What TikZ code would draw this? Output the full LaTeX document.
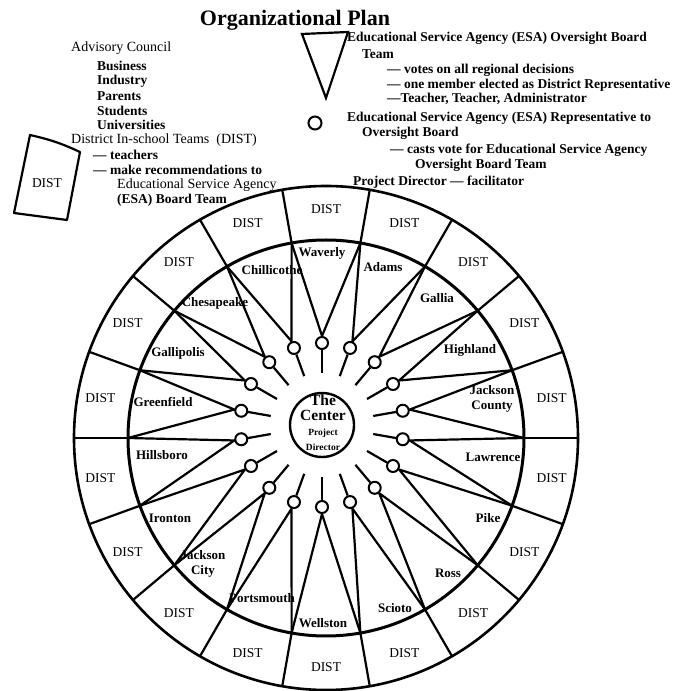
\documentclass[tikz,border=0pt]{standalone}
\usepackage{fontspec}
\setmainfont{Liberation Serif}
\usetikzlibrary{calc}
\def\legendfont{\fontsize{13.5}{15}\selectfont}
\tikzset{
  ringline/.style={line width=3pt},
  rimline/.style={line width=2.6pt},
  spoke/.style={line width=2.2pt, line join=round},
  rep/.style={circle, draw, line width=2pt, minimum size=12pt, inner sep=0pt, fill=white},
  distlabel/.style={font=\fontsize{13.5}{14}\selectfont, inner sep=0pt},
  townlabel/.style={font=\fontsize{13}{15}\selectfont\bfseries, align=center, inner sep=0pt},
  legendtext/.style={anchor=west, inner sep=0pt, font=\fontsize{14}{15}\selectfont},
  legendbold/.style={anchor=west, inner sep=0pt, font=\legendfont\bfseries},
}

\begin{document}
\begin{tikzpicture}[x=1pt, y=1pt]
			%%%%% START %%%%%
			\useasboundingbox (0,0) rectangle (680,691);
			\coordinate (W) at (326,253);
			\coordinate (H) at (322,266);
			
			\node[font=\fontsize{22}{24}\selectfont\bfseries] (title) at (295,671) {Organizational Plan};
			
			% left legend
			\node[legendtext] (adv) at (71,643) {Advisory Council};
			\node[legendbold] (bus) at (97,625) {Business};
			\node[legendbold] (ind) at (97,610) {Industry};
			\node[legendbold] (par) at (97,595) {Parents};
			\node[legendbold] (stu) at (97,580) {Students};
			\node[legendbold] (uni) at (97,566) {Universities};
			\node[legendtext] (dist) at (71,551) {District In-school Teams\ \ (DIST)};
			\node[legendbold] (tea) at (93,536) {--- teachers};
			\node[legendbold] (mak) at (93,521) {--- make recommendations to};
			\node[legendtext] (esa) at (117,506) {Educational Service Agency};
			\node[legendbold] (brd) at (117,491) {(ESA) Board Team};
			
			\draw[line width=2.2pt, line join=round] (30,556) to[bend left=6] (80,539) -- (67,471) -- (14,478) -- cycle;
			\node[distlabel] (dsample) at (47,508) {DIST};
			
			% right legend
			\draw[line width=2.2pt] (302,657) -- (348,659) -- (326,593) -- cycle;
			\node[rep, minimum size=13pt] (legrep) at (315,568) {};
			\node[legendbold] (ob1) at (347,653) {Educational Service Agency (ESA) Oversight Board};
			\node[legendbold] (ob2) at (362,637) {Team};
			\node[legendbold] (ob3) at (387,621) {--- votes on all regional decisions};
			\node[legendbold] (ob4) at (387,606) {--- one member elected as District Representative};
			\node[legendbold] (ob5) at (387,592) {---Teacher, Teacher, Administrator};
			\node[legendbold] (rp1) at (347,573) {Educational Service Agency (ESA) Representative to};
			\node[legendbold] (rp2) at (362,558) {Oversight Board};
			\node[legendbold] (rp3) at (390,541) {--- casts vote for Educational Service Agency};
			\node[legendbold] (rp4) at (415,526) {Oversight Board Team};
			\node[legendbold] (pd) at (353,509) {Project Director --- facilitator};
			
			% wheel
			\draw[rimline] (W) circle (252pt);
			\draw[ringline] (W) circle (198pt);
			
			\foreach \k in {0,...,17}{
				\coordinate (v\k) at ($(W)+(20*\k:198pt)$);
				\coordinate (o\k) at ($(W)+(20*\k:252pt)$);
				\node[rep] (r\k) at ($(H)+(20*\k+10:82pt)$) {};
				\coordinate (s\k) at ($(H)+(20*\k+10:52pt)$);
			}
			
			\foreach \k in {0,...,17}{
				\pgfmathtruncatemacro\n{mod(\k+1,18)}
				\pgfmathtruncatemacro\m{20*\k+10}
				\pgfmathtruncatemacro\b{mod(20*\k+190,360)}
				\draw[spoke] (v\k) -- (r\k.\m) -- (v\n);
				\draw[spoke] (r\k.\b) -- (s\k);
				\draw[spoke] (v\k) -- (o\k);
				\node[distlabel] (d\k) at ($(W)+(\m:229pt)$) {DIST};
			}
			
			\node[circle, draw, line width=2.4pt, minimum size=64pt] (hub) at (H) {};
			\node[align=center, font=\fontsize{15.5}{15}\selectfont\bfseries, inner sep=0pt] (hubtext) at ($(H)+(1,2)$)
				{The\\ Center\\ \fontsize{9.5}{15}\selectfont Project\\ \fontsize{9.5}{15}\selectfont Director};
			
			% districts
			\node[townlabel] (t1) at (322,438) {Waverly};
			\node[townlabel] (t2) at (383,424) {Adams};
			\node[townlabel] (t3) at (437,393) {Gallia};
			\node[townlabel] (t4) at (470,341) {Highland};
			\node[townlabel] (t5) at (492,292) {Jackson\\County};
			\node[townlabel] (t6) at (493,234) {Lawrence};
			\node[townlabel] (t7) at (488,173) {Pike};
			\node[townlabel] (t8) at (448,118) {Ross};
			\node[townlabel] (t9) at (395,83) {Scioto};
			\node[townlabel] (t10) at (323,68) {Wellston};
			\node[townlabel] (t11) at (262,93) {Portsmouth};
			\node[townlabel] (t12) at (203,127) {Jackson\\City};
			\node[townlabel] (t13) at (170,173) {Ironton};
			\node[townlabel] (t14) at (162,236) {Hillsboro};
			\node[townlabel] (t15) at (163,289) {Greenfield};
			\node[townlabel] (t16) at (178,338) {Gallipolis};
			\node[townlabel] (t17) at (215,388) {Chesapeake};
			\node[townlabel] (t18) at (272,421) {Chillicothe};
			
			%%%%% END %%%%%
\end{tikzpicture}
\end{document}
